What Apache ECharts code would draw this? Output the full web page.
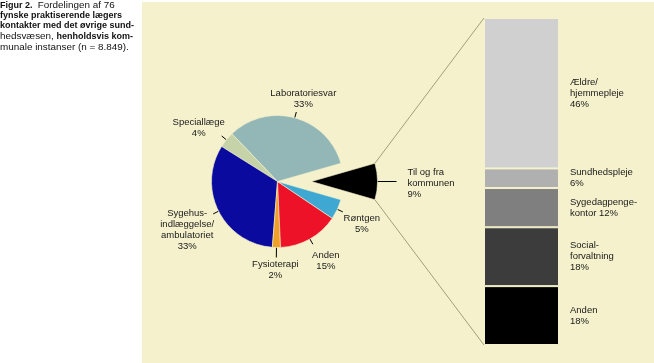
<!DOCTYPE html>
<html><head><meta charset="utf-8">
<script src="https://cdn.jsdelivr.net/npm/echarts@6/dist/echarts.min.js"></script>
<style>html,body{margin:0;padding:0;background:#fff}#c{width:654px;height:363px}</style>
</head><body><div id="c"></div>
<script>
// ---- data ----
const pieNames = ['Laboratoriesvar', 'Speciallæge', 'Sygehus-\nindlæggelse/\nambulatoriet', 'Fysioterapi', 'Anden', 'Røntgen', 'Til og fra\nkommunen'];
const pieValues = [33, 4, 33, 2, 15, 5, 9];
const barNames = ['Ældre/\nhjemmepleje', 'Sundhedspleje', 'Sygedagpenge-\nkontor', 'Social-\nforvaltning', 'Anden'];
const barJoin = ['\n', '\n', ' ', '\n', '\n'];
const barValues = [46, 6, 12, 18, 18];
const captionLines = [
  '{b|Figur 2.}  {r|Fordelingen af 76}',
  '{b|fynske praktiserende lægers}',
  '{b|kontakter med det øvrige sund-}',
  '{r|hedsvæsen,} {b|henholdsvis kom-}',
  '{r|munale instanser (n = 8.849).}'
];

// ---- styles ----
const FONT = 'Liberation Sans, Arial, sans-serif';
const BG = '#f4f1cc';
const pieColors = ['#93b7b7', '#c6d2a8', '#0a0a9e', '#f0a028', '#ee1228', '#3fa8d2', '#000000'];
const barColors = ['#d0d0d0', '#b0b0b0', '#7f7f7f', '#3c3c3c', '#000000'];
const PIE_C = [277.5, 181.5], PIE_R = 66, OFFSET = 34;
// label adjustments per pie slice (relative to library position)
const pieLabelAdj = [
  {align: 'center', dx: 1, dy: -6.5},
  {align: 'center', dx: -9, dy: -4},
  {align: 'center', dx: -10.5, dy: 8},
  {align: 'center', dx: 2, dy: 6},
  {align: 'center', dx: 4, dy: 8.5},
  {align: 'center', dx: 7, dy: 6},
  {align: 'left', dx: 6, dy: 2}
];
const lineLen = [6, 6, 6, 10, 6, 6, 19];

const total = pieValues.reduce((a, b) => a + b, 0);
const lastIdx = pieValues.length - 1;
const halfAngle = 180 * pieValues[lastIdx] / total;

const chart = echarts.init(document.getElementById('c'), null, {renderer: 'canvas'});

const barSeries = [];
for (let k = barNames.length - 1; k >= 0; k--) {
  barSeries.push({
    type: 'bar', stack: 'k', name: barNames[k], barWidth: '100%',
    xAxisIndex: 0, yAxisIndex: 0,
    itemStyle: {color: barColors[k], borderColor: BG, borderWidth: 1},
    emphasis: {disabled: true},
    label: {
      show: true, position: 'right', distance: 11, align: 'left',
      fontFamily: FONT, fontSize: 9.5, lineHeight: 11, color: '#1a1a1a',
      formatter: () => barNames[k] + barJoin[k] + barValues[k] + '%'
    },
    data: [barValues[k]]
  });
}

chart.setOption({
  animation: false,
  backgroundColor: '#ffffff',
  title: {
    left: 0, top: 0, padding: 0,
    text: captionLines.join('\n'),
    textStyle: {
      fontFamily: FONT, fontSize: 9.5, lineHeight: 10.4, color: '#111',
      rich: {
        b: {fontFamily: FONT, fontSize: 9, fontWeight: 'bold', lineHeight: 10.4, color: '#111'},
        r: {fontFamily: FONT, fontSize: 9.9, fontWeight: 'normal', lineHeight: 10.4, color: '#111'}
      }
    }
  },
  graphic: [{
    id: 'bg', type: 'rect', z: -10, silent: true,
    shape: {x: 142, y: 2, width: 512, height: 361},
    style: {fill: BG}
  }],
  grid: {left: 484, top: 18, width: 75, height: 327, containLabel: false},
  xAxis: {type: 'category', data: ['kommunen'], show: false},
  yAxis: {type: 'value', min: 0, max: 100, show: false},
  series: [{
    type: 'pie',
    center: PIE_C, radius: PIE_R,
    startAngle: halfAngle, clockwise: false,
    selectedMode: 'single', selectedOffset: OFFSET,
    avoidLabelOverlap: false,
    emphasis: {disabled: true},
    itemStyle: {borderColor: BG, borderWidth: 0.6},
    label: {
      show: true, position: 'outside', formatter: '{b}\n{c}%',
      fontFamily: FONT, fontSize: 9.5, lineHeight: 11, color: '#1a1a1a'
    },
    labelLine: {show: true, length: 6, length2: 0, smooth: false, lineStyle: {color: '#000', width: 1}},
    labelLayout: function (p) {
      const a = pieLabelAdj[p.dataIndex];
      return {align: a.align, verticalAlign: 'middle', dx: a.dx, dy: a.dy};
    },
    data: pieNames.map((n, i) => ({
      name: n, value: pieValues[i], selected: i === lastIdx,
      itemStyle: {color: pieColors[i]},
      labelLine: {length: lineLen[i], length2: 0}
    }))
  }].concat(barSeries)
});

// connecting lines from exploded slice to the stacked bar
const rect = chart.getModel().getComponent('grid', 0).coordinateSystem.getRect();
const rad = halfAngle * Math.PI / 180;
const sx = PIE_C[0] + OFFSET + PIE_R * Math.cos(rad);
const syTop = PIE_C[1] - PIE_R * Math.sin(rad);
const syBot = PIE_C[1] + PIE_R * Math.sin(rad);
const topY = chart.convertToPixel({yAxisIndex: 0}, 100);
const botY = chart.convertToPixel({yAxisIndex: 0}, 0);
chart.setOption({
  graphic: [
    {id: 'l1', type: 'line', z: 1, silent: true, shape: {x1: sx, y1: syTop, x2: rect.x, y2: topY}, style: {stroke: '#a69e78', lineWidth: 1}},
    {id: 'l2', type: 'line', z: 1, silent: true, shape: {x1: sx, y1: syBot, x2: rect.x, y2: botY}, style: {stroke: '#a69e78', lineWidth: 1}}
  ]
});
</script>
</body></html>
